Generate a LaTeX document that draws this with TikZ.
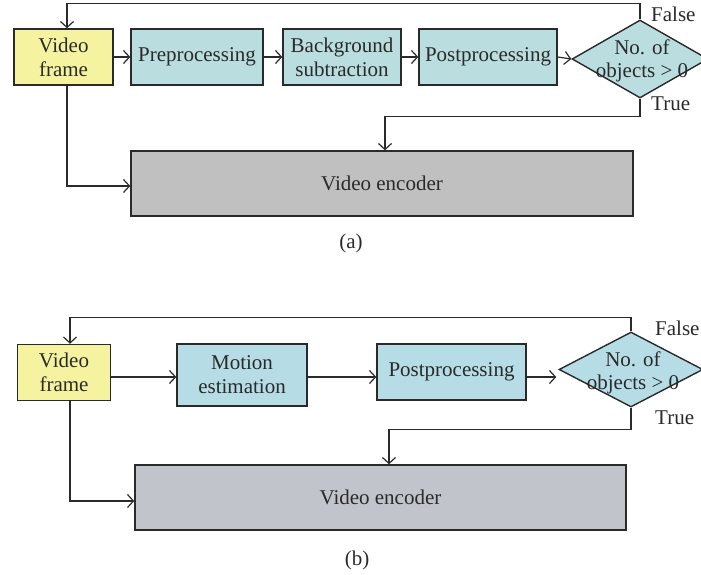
\documentclass[tikz,border=0pt]{standalone}
\usepackage{fontspec}
\setmainfont{Liberation Serif}
\usetikzlibrary{arrows.meta,shapes.geometric}
\definecolor{vfy}{HTML}{F6F3A0}
\definecolor{tealA}{HTML}{BADDE0}
\definecolor{blueB}{HTML}{B6DCE6}
\definecolor{grayA}{HTML}{C0C0C0}
\definecolor{grayB}{HTML}{C2C4CB}
\definecolor{ink}{HTML}{2A2A2A}
\tikzset{
  blk/.style={draw=ink, line width=1.4pt, inner sep=0pt, align=center, text=ink,
    font=\fontsize{21}{24}\selectfont},
  dia/.style={draw=ink, line width=1.4pt, shape=diamond, inner sep=0pt, aspect=1},
  lbl/.style={text=ink, font=\fontsize{21}{23}\selectfont, align=center, inner sep=0pt},
  conn/.style={draw=ink, line width=1.2pt, -{Straight Barb[length=6pt,width=13pt,line width=1.2pt]}},
}
\begin{document}
\begin{tikzpicture}[x=1pt,y=-1pt]
\useasboundingbox[fill=white] (0,0) rectangle (701,575);
% ---------- (a)
\node[blk, fill=vfy, minimum width=99, minimum height=56] (vf1) at (63.5,57) {Video\\frame};
\node[blk, fill=tealA, minimum width=132, minimum height=56] (pre) at (197,57) {Preprocessing};
\node[blk, fill=tealA, minimum width=118, minimum height=56] (bg) at (342,57) {Background\\subtraction};
\node[blk, fill=tealA, minimum width=138, minimum height=56] (post1) at (488,57) {Postprocessing};
\node[dia, fill=tealA, minimum width=136, minimum height=78] (dia1) at (640,59) {};
\node[lbl] (dt1) at (642,61) {No. of\\objects > 0};
\node[blk, fill=grayA, minimum width=502, minimum height=65] (enc1) at (382,183.5) {Video encoder};
\node[lbl, anchor=west] (f1) at (651,14) {False};
\node[lbl, anchor=west] (t1) at (651,104) {True};
\node[lbl] (cap1) at (351,243) {(a)};
\draw[conn] (vf1.east) -- (pre.west);
\draw[conn] (pre.east) -- (bg.west);
\draw[conn] (bg.east) -- (post1.west);
\draw[conn] (post1.east) -- (dia1.west);
\draw[conn] (dia1.north) -- ++(0,-16) -| ([xshift=3.5]vf1.north);
\draw[conn] (dia1.south) -- ++(0,18) -| ([xshift=3]enc1.north);
\draw[conn] ([xshift=3.5]vf1.south) |- ([yshift=-2.5]enc1.west);
% ---------- (b)
\coordinate (rowb) at (0,377);
\node[blk, fill=vfy, minimum width=93, minimum height=56] (vf2) at (64,372.5) {Video\\frame};
\node[blk, fill=blueB, minimum width=130, minimum height=62] (mot) at (242,375) {Motion\\estimation};
\node[blk, fill=blueB, minimum width=149, minimum height=56] (post2) at (451.5,372) {Postprocessing};
\node[dia, fill=blueB, minimum width=144, minimum height=75] (dia2) at (631,369.5) {};
\node[lbl] (dt2) at (633,373) {No. of\\objects > 0};
\node[blk, fill=grayB, minimum width=491, minimum height=65] (enc2) at (380.5,497.5) {Video encoder};
\node[lbl, anchor=west] (f2) at (655,328) {False};
\node[lbl, anchor=west] (t2) at (655,418) {True};
\node[lbl] (cap2) at (357,560) {(b)};
\draw[conn] (vf2.east |- rowb) -- (mot.west |- rowb);
\draw[conn] (mot.east |- rowb) -- (post2.west |- rowb);
\draw[conn] (post2.east |- rowb) -- ([xshift=-2]dia2.west |- rowb);
\draw[conn] (dia2.north) -- ++(0,-14) -| ([xshift=6]vf2.north);
\draw[conn] (dia2.south) -- ++(0,22) -| ([xshift=8.5]enc2.north);
\draw[conn] ([xshift=6]vf2.south) |- ([yshift=-3.5]enc2.west);
\end{tikzpicture}
\end{document}
